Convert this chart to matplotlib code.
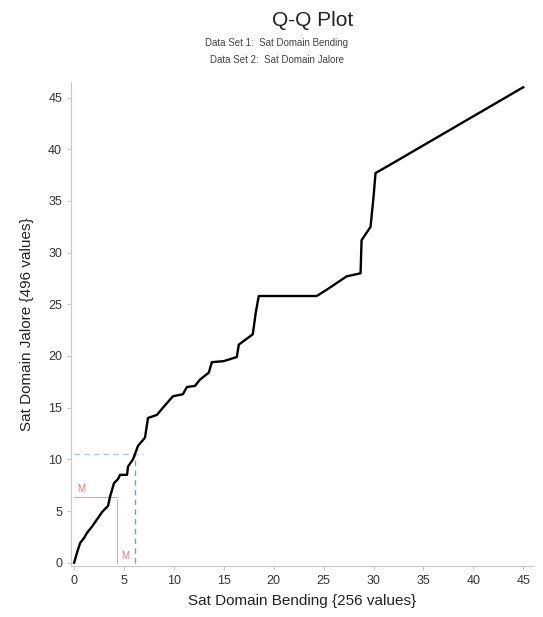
import matplotlib
matplotlib.use("Agg")
import matplotlib.pyplot as plt

plt.rcParams["font.family"] = ["Liberation Sans", "DejaVu Sans"]

# quantile pairs
x_q = [0, 0.3, 0.6, 1.0, 1.3, 1.8, 2.3, 2.8, 3.4, 3.6, 4.0, 4.4, 4.6, 5.3, 5.4, 5.9, 6.4,
       7.1, 7.4, 8.3, 8.9, 9.9, 10.9, 11.3, 12.1, 12.6, 13.5, 13.8, 15.0, 16.3, 16.5, 17.9,
       18.2, 18.5, 24.3, 25.3, 27.3, 28.7, 28.8, 29.7, 30.0, 30.2, 31.3, 45.0]
y_q = [0, 1.0, 1.9, 2.4, 2.9, 3.5, 4.2, 4.9, 5.5, 6.4, 7.7, 8.1, 8.5, 8.5, 9.3, 10.0, 11.3,
       12.1, 14.0, 14.3, 15.0, 16.1, 16.3, 17.0, 17.1, 17.7, 18.4, 19.4, 19.5, 19.9, 21.1, 22.1,
       24.2, 25.8, 25.8, 26.4, 27.7, 28.0, 31.2, 32.5, 35.4, 37.7, 38.3, 46.0]

median_x, median_y = 4.3, 6.4
p90_x, p90_y = 6.1, 10.5
ticks = [0, 5, 10, 15, 20, 25, 30, 35, 40, 45]

fig = plt.figure(figsize=(5.43, 6.17), dpi=100)
ax = fig.add_axes([0.131, 0.083, 0.851, 0.784])

# reference lines
ax.plot([0, p90_x + 0.8], [p90_y, p90_y], color="#b4c6de", lw=1, ls=(0, (4, 3)))
ax.plot([p90_x, p90_x], [0, p90_y], color="#7f9cc8", lw=1, ls=(0, (4, 3)))
ax.plot([0, median_x], [median_y, median_y], color="#f4a0a0", lw=0.8)
ax.plot([median_x, median_x], [0, median_y - 0.3], color="#f4a0a0", lw=0.8)
ax.text(0.3, median_y + 0.2, "M", color="#e87070", fontsize=7, va="bottom")
ax.text(median_x + 0.4, 0.2, "M", color="#e87070", fontsize=7, va="bottom")

ax.plot(x_q, y_q, color="black", lw=1.7)

ax.set_xlim(-0.3, 46)
ax.set_ylim(-0.3, 46.5)
ax.set_xticks(ticks)
ax.set_yticks(ticks)
for s in ["top", "right"]:
    ax.spines[s].set_visible(False)
for s in ["left", "bottom"]:
    ax.spines[s].set_color("#c8c8c8")
ax.tick_params(colors="#c8c8c8", labelcolor="#333333", labelsize=9, length=3)

ax.set_xlabel("Sat Domain Bending {256 values}", fontsize=11, color="#222222", labelpad=5)
ax.set_ylabel("Sat Domain Jalore {496 values}", fontsize=11, color="#222222", labelpad=10)

fig.text(0.575, 0.966, "Q-Q Plot", ha="center", va="center", fontsize=15, color="#222222")
fig.text(0.51, 0.931, "Data Set 1:  Sat Domain Bending", ha="center", va="center", fontsize=7, color="#444444")
fig.text(0.51, 0.902, "Data Set 2:  Sat Domain Jalore", ha="center", va="center", fontsize=7, color="#444444")

fig.savefig("out.png", dpi=100)
